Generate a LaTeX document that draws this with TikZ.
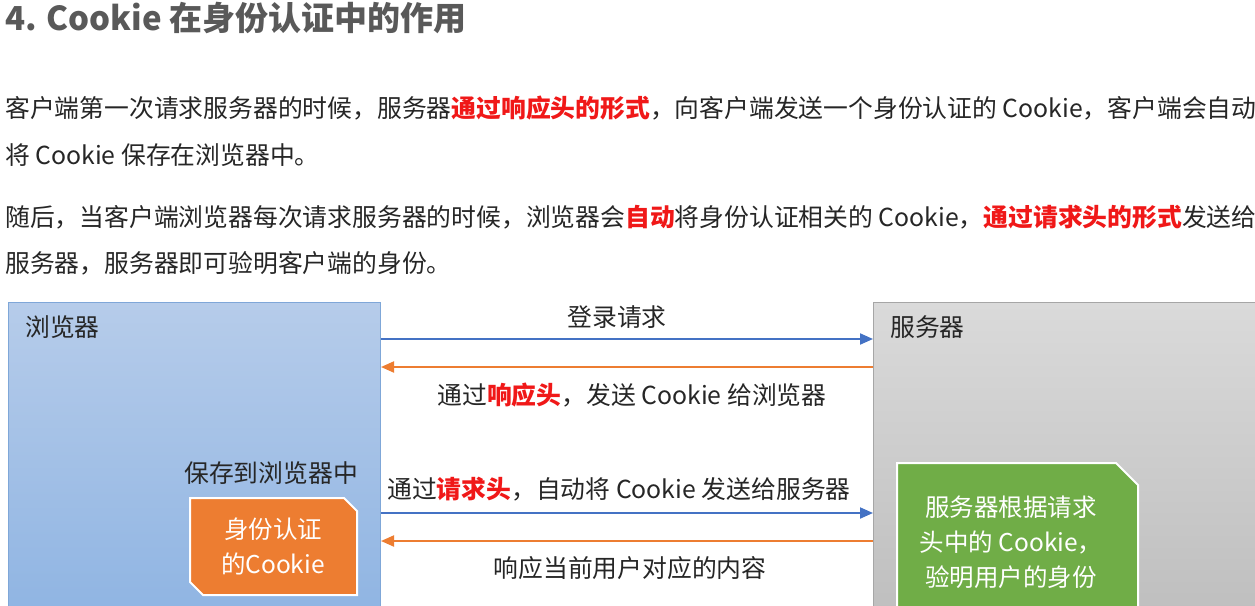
\documentclass[tikz,border=0pt]{standalone}
\usepackage{fontspec}
\setmainfont{Noto Sans CJK SC}
\usetikzlibrary{shapes.misc,arrows.meta}
\definecolor{txt}{HTML}{262626}
\definecolor{ttl}{HTML}{595959}
\definecolor{hl}{HTML}{F01818}
\definecolor{bluearr}{HTML}{4472C4}
\definecolor{orgarr}{HTML}{ED7D31}
\definecolor{orgbox}{HTML}{ED7D31}
\definecolor{grnbox}{HTML}{70AD47}
\definecolor{btop}{HTML}{B6CCEA}
\definecolor{bbot}{HTML}{8DB3E2}
\definecolor{bedge}{HTML}{7FA7D8}
\definecolor{stop}{HTML}{DADADA}
\definecolor{sbot}{HTML}{BDBDBD}
\definecolor{sedge}{HTML}{A6A6A6}
\newcommand{\hlt}[1]{{\bfseries\color{hl}#1}}
\tikzset{
  body/.style={text=txt, font=\fontsize{24.8}{28}\selectfont, inner sep=0pt},
  para/.style={body, anchor=west},
  req/.style={line width=2pt, draw=bluearr, -{Triangle[length=13pt,width=11pt]}},
  resp/.style={line width=2pt, draw=orgarr, -{Triangle[length=13pt,width=11pt]}},
  panel/.style={rectangle, anchor=north west, inner sep=0pt, line width=1pt},
  snipbox/.style={draw=white, line width=2pt, line join=miter},
  boxtext/.style={text=white, font=\fontsize{24.5}{35}\selectfont, align=center, inner sep=0pt},
}
\begin{document}
\begin{tikzpicture}[x=1pt,y=-1pt]
\useasboundingbox (0,0) rectangle (1255,605);
\clip (0,0) rectangle (1255,605);
\fill[white] (0,0) rectangle (1255,605);

% title and paragraphs
\node[anchor=west, inner sep=0pt, text=ttl, font=\fontsize{33}{36}\selectfont\bfseries] (title) at (5,18) {4. Cookie 在身份认证中的作用};
\node[para] (p1a) at (5,108) {客户端第一次请求服务器的时候，服务器\hlt{通过响应头的形式}，向客户端发送一个身份认证的 Cookie，客户端会自动};
\node[para] (p1b) at (5,155) {将 Cookie 保存在浏览器中。};
\node[para] (p2a) at (5,217) {随后，当客户端浏览器每次请求服务器的时候，浏览器会\hlt{自动}将身份认证相关的 Cookie，\hlt{通过请求头的形式}发送给};
\node[para] (p2b) at (5,263) {服务器，服务器即可验明客户端的身份。};

% panels
\node[panel, draw=bedge, top color=btop, bottom color=bbot, minimum width=372pt, minimum height=330pt] (browser) at (8,302) {};
\node[panel, draw=sedge, top color=stop, bottom color=sbot, minimum width=400pt, minimum height=330pt] (server) at (873,302) {};
\node[para] (blabel) at (25,327) {浏览器};
\node[para] (slabel) at (890,327) {服务器};
\node[body] (savelbl) at (271,473) {保存到浏览器中};

% cookie box (orange, snipped diagonal corners)
\filldraw[snipbox, fill=orgbox] (190,498) -- (344,498) -- (357,511) -- (357,595) -- (203,595) -- (190,582) -- cycle;
\node[boxtext] (cookie) at (273,546) {身份认证\\的Cookie};
% verify box (green, snipped top-right corner)
\filldraw[snipbox, fill=grnbox] (897,463) -- (1116,463) -- (1138,485) -- (1138,620) -- (897,620) -- cycle;
\node[boxtext] (verify) at (1011,542) {服务器根据请求\\头中的 Cookie，\\验明用户的身份};

% connectors
\coordinate (b1) at (browser.north east |- 0,339);
\coordinate (s1) at (server.north west |- 0,339);
\coordinate (b2) at (browser.north east |- 0,367);
\coordinate (s2) at (server.north west |- 0,367);
\coordinate (b3) at (browser.north east |- 0,513);
\coordinate (s3) at (server.north west |- 0,513);
\coordinate (b4) at (browser.north east |- 0,541);
\coordinate (s4) at (server.north west |- 0,541);
\draw[req] (b1) -- (s1);
\draw[resp] (s2) -- (b2);
\draw[req] (b3) -- (s3);
\draw[resp] (s4) -- (b4);

\node[body] (l1) at (617,317) {登录请求};
\node[body] (l2) at (632,395) {通过\hlt{响应头}，发送 Cookie 给浏览器};
\node[body] (l3) at (619,489) {通过\hlt{请求头}，自动将 Cookie 发送给服务器};
\node[body] (l4) at (630,568) {响应当前用户对应的内容};
\end{tikzpicture}
\end{document}
